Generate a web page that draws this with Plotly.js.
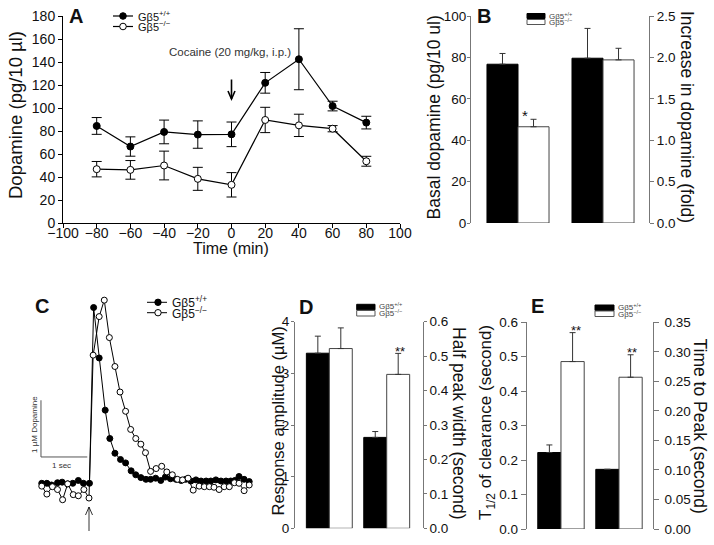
<!DOCTYPE html>
<html>
<head>
<meta charset="utf-8">
<script src="https://cdn.plot.ly/plotly-3.0.1.min.js"></script>
<style>html,body{margin:0;padding:0;background:#fff;}#chart{width:714px;height:545px;}</style>
</head>
<body>
<div id="chart"></div>
<script>
// ---------- Panel A: microdialysis time course ----------
const timeA = [-80, -60, -40, -20, 0, 20, 40, 60, 80];
const wtA = [84.4, 66.5, 79.2, 76.9, 77.1, 121.9, 142.4, 101.7, 87.3];
const wtAerr = [7.3, 8.4, 10.3, 11.9, 10.7, 9.0, 26.5, 4.2, 5.5];
const koA = [46.8, 46.2, 50.0, 38.4, 33.2, 89.6, 84.9, 82.0, 53.7];
const koAerr = [6.7, 8.1, 12.5, 10.0, 10.6, 11.0, 9.7, 2.7, 4.3];

// ---------- Panel B ----------
const groupsB = ['Basal', 'Increase'];
const basalB = [76.7, 46.5];        // WT, KO (pg/10 ul)
const basalBerr = [5.2, 3.6];
const foldB = [1.99, 1.97];         // WT, KO (fold)
const foldBerr = [0.36, 0.14];

// ---------- Panel C: voltammetry traces ----------
const tWT = [-1.02,-0.91,-0.81,-0.68,-0.58,-0.46,-0.35,-0.23,-0.12,0.01,0.10,0.22,0.35,0.45,0.56,0.68,0.79,0.91,1.01,1.12,1.23,1.33,1.44,1.55,1.65,1.76,1.88,1.99,2.09,2.20,2.31,2.42,2.53,2.63,2.74,2.85,2.96,3.06,3.15,3.24,3.35,3.46];
const yWT = [0,0,-0.03,0.01,0.02,-0.01,0,0.05,0,0,3.10,2.21,1.29,0.79,0.53,0.42,0.36,0.22,0.15,0.10,0.07,0.07,0.09,0.05,0.11,0.08,0.07,0.05,0.07,0.04,0.06,0.04,0.04,0.04,0.06,0.04,0.04,0.04,0.05,0.12,0.07,0.03];
const tKO = [-1.02,-0.91,-0.79,-0.68,-0.57,-0.46,-0.34,-0.23,-0.11,0.00,0.09,0.22,0.33,0.44,0.56,0.67,0.79,0.90,1.01,1.12,1.22,1.33,1.45,1.57,1.68,1.80,1.91,2.02,2.14,2.25,2.38,2.49,2.60,2.70,2.81,2.92,3.03,3.14,3.24,3.35,3.46];
const yKO = [-0.05,-0.19,-0.06,-0.11,-0.29,-0.01,-0.20,-0.22,-0.11,-0.26,2.26,2.94,3.23,2.57,2.06,1.61,1.27,0.95,0.79,0.69,0.54,0.21,0.26,0.30,0.20,0.15,0.07,0.06,0.09,-0.12,-0.05,-0.06,-0.06,-0.07,-0.11,-0.06,-0.06,0.01,0.00,-0.13,-0.03];

// ---------- Panel D ----------
const groupsD = ['Amplitude', 'HalfWidth'];
const ampD = [3.39, 3.48];          // uM
const ampDerr = [0.33, 0.40];
const widthD = [0.264, 0.447];      // s
const widthDerr = [0.017, 0.061];

// ---------- Panel E ----------
const groupsE = ['T12', 'TTP'];
const t12E = [0.222, 0.486];        // s
const t12Eerr = [0.022, 0.084];
const ttpE = [0.101, 0.257];        // s
const ttpEerr = [0.0, 0.038];

const W = 714, H = 545;
const P = x => x / W;
const Q = y => 1 - y / H;
const FONT = 'Liberation Sans, Arial, sans-serif';
const TXT = '#111';
const AX = '#777';
const lblWT = 'Gβ5<sup>+/+</sup>';
const lblKO = 'Gβ5<sup>−/−</sup>';

function errUp(v) {
  return {type: 'data', array: [v], arrayminus: [0], symmetric: false, color: '#333', thickness: 1, width: 3};
}
function barT(cat, val, err, xa, ya, wt, bw) {
  return {
    type: 'bar', x: [cat], y: [val], xaxis: xa, yaxis: ya,
    width: bw, offset: wt ? -bw : 0,
    marker: {color: wt ? '#000' : '#fff', line: {color: wt ? '#000' : '#444', width: 1}},
    error_y: errUp(err), showlegend: false, hoverinfo: 'skip'
  };
}

const traces = [];
// A
traces.push({
  type: 'scatter', mode: 'lines+markers', x: timeA, y: wtA, xaxis: 'x', yaxis: 'y',
  line: {color: '#000', width: 1.2},
  marker: {symbol: 'circle', size: 7, color: '#000', line: {color: '#000', width: 1}},
  error_y: {type: 'data', array: wtAerr, visible: true, color: '#000', thickness: 1, width: 5},
  showlegend: false, cliponaxis: false
});
traces.push({
  type: 'scatter', mode: 'lines+markers', x: timeA, y: koA, xaxis: 'x', yaxis: 'y',
  line: {color: '#000', width: 1.2},
  marker: {symbol: 'circle', size: 7, color: '#fff', line: {color: '#000', width: 1}},
  error_y: {type: 'data', array: koAerr, visible: true, color: '#000', thickness: 1, width: 5},
  showlegend: false, cliponaxis: false
});
// B
const bwB = 0.365;
traces.push(barT(groupsB[0], basalB[0], basalBerr[0], 'x2', 'y2', true, bwB));
traces.push(barT(groupsB[0], basalB[1], basalBerr[1], 'x2', 'y2', false, bwB));
traces.push(barT(groupsB[1], foldB[0], foldBerr[0], 'x2', 'y3', true, bwB));
traces.push(barT(groupsB[1], foldB[1], foldBerr[1], 'x2', 'y3', false, bwB));
// C
traces.push({
  type: 'scatter', mode: 'lines+markers', x: tWT, y: yWT, xaxis: 'x3', yaxis: 'y4',
  line: {color: '#000', width: 1},
  marker: {symbol: 'circle', size: 6, color: '#000', line: {color: '#000', width: 1}},
  showlegend: false, cliponaxis: false
});
traces.push({
  type: 'scatter', mode: 'lines+markers', x: tKO, y: yKO, xaxis: 'x3', yaxis: 'y4',
  line: {color: '#000', width: 1},
  marker: {symbol: 'circle', size: 6, color: '#fff', line: {color: '#000', width: 1}},
  showlegend: false, cliponaxis: false
});
// D
const bwD = 0.40;
traces.push(barT(groupsD[0], ampD[0], ampDerr[0], 'x4', 'y5', true, bwD));
traces.push(barT(groupsD[0], ampD[1], ampDerr[1], 'x4', 'y5', false, bwD));
traces.push(barT(groupsD[1], widthD[0], widthDerr[0], 'x4', 'y6', true, bwD));
traces.push(barT(groupsD[1], widthD[1], widthDerr[1], 'x4', 'y6', false, bwD));
// E
const bwE = 0.40;
traces.push(barT(groupsE[0], t12E[0], t12Eerr[0], 'x5', 'y7', true, bwE));
traces.push(barT(groupsE[0], t12E[1], t12Eerr[1], 'x5', 'y7', false, bwE));
traces.push(barT(groupsE[1], ttpE[0], ttpEerr[0], 'x5', 'y8', true, bwE));
traces.push(barT(groupsE[1], ttpE[1], ttpEerr[1], 'x5', 'y8', false, bwE));

function tf(s) { return {family: FONT, size: s, color: TXT}; }
function yax(domain, range, dtick, fmt, anchor, extra) {
  return Object.assign({
    domain: domain, range: range, dtick: dtick, tick0: 0, tickformat: fmt, anchor: anchor,
    showline: true, linecolor: AX, linewidth: 1, ticks: 'outside', ticklen: 4, tickcolor: AX,
    showgrid: false, zeroline: false, tickfont: tf(13.5), fixedrange: true
  }, extra || {});
}
function hiddenX(domain, range, anchor, cats) {
  const a = {domain: domain, range: range, anchor: anchor, visible: false, showgrid: false, zeroline: false, fixedrange: true};
  if (cats) { a.type = 'category'; a.categoryorder = 'array'; a.categoryarray = cats; }
  return a;
}

const domAy = [Q(223), Q(16)];
const domDy = [Q(528.3), Q(321.7)];
const domEy = [Q(529), Q(322.3)];

const layout = {
  width: W, height: H,
  margin: {l: 0, r: 0, t: 0, b: 0},
  paper_bgcolor: '#fff', plot_bgcolor: 'rgba(0,0,0,0)',
  font: {family: FONT, color: TXT},
  showlegend: false,
  barmode: 'overlay',
  xaxis: {
    domain: [P(63), P(400)], range: [-100, 100], dtick: 20, tick0: -100, anchor: 'y',
    showline: true, linecolor: '#000', linewidth: 1, ticks: 'outside', ticklen: 4, tickcolor: '#000',
    ticklabelstandoff: -7,
    showgrid: false, zeroline: false, tickfont: tf(14), fixedrange: true
  },
  yaxis: yax(domAy, [0, 180], 20, 'd', 'x', {linecolor: '#000', tickcolor: '#000', ticklen: 4, tickfont: tf(14)}),
  xaxis2: hiddenX([P(471), P(649)], [-0.553, 1.541], 'y2', groupsB),
  yaxis2: yax(domAy, [0, 100], 20, 'd', 'x2', {ticklen: 3, ticklabelstandoff: -2}),
  yaxis3: yax(domAy, [0, 2.5], 0.5, '.1f', 'x2', {overlaying: 'y2', side: 'right', ticklen: 4}),
  xaxis3: hiddenX([P(30), P(250)], [-1.274, 3.477], 'y4'),
  yaxis4: {domain: [Q(510), Q(290)], range: [-0.471, 3.409], anchor: 'x3', visible: false, showgrid: false, zeroline: false, fixedrange: true},
  xaxis4: hiddenX([P(295), P(422.7)], [-0.598, 1.627], 'y5', groupsD),
  yaxis5: yax(domDy, [0, 4], 1, 'd', 'x4', {ticklen: 3, ticklabelstandoff: -1}),
  yaxis6: yax(domDy, [0, 0.6], 0.1, '.1f', 'x4', {overlaying: 'y5', side: 'right', ticklen: 3}),
  xaxis5: hiddenX([P(526.7), P(652.7)], [-0.591, 1.581], 'y7', groupsE),
  yaxis7: yax(domEy, [0, 0.6], 0.1, '.1f', 'x5', {ticklen: 5}),
  yaxis8: yax(domEy, [0, 0.35], 0.05, '.2f', 'x5', {overlaying: 'y7', side: 'right', ticklen: 5, ticklabelstandoff: 3}),
  shapes: [],
  annotations: []
};

const S = layout.shapes, A = layout.annotations;
function txt(x, y, text, size, opts) {
  A.push(Object.assign({
    xref: 'paper', yref: 'paper', x: P(x), y: Q(y), text: text, showarrow: false,
    xanchor: 'center', yanchor: 'middle', font: {family: FONT, size: size, color: TXT}
  }, opts || {}));
}
function hline(x0, x1, y, w) {
  S.push({type: 'line', xref: 'paper', yref: 'paper', x0: P(x0), x1: P(x1), y0: Q(y), y1: Q(y), line: {color: '#000', width: w || 1}});
}
function dot(x, y, r, fill) {
  S.push({type: 'circle', xref: 'paper', yref: 'paper', xsizemode: 'pixel', ysizemode: 'pixel',
    xanchor: P(x), yanchor: Q(y), x0: -r, x1: r, y0: -r, y1: r,
    fillcolor: fill, line: {color: '#000', width: 1}});
}
function rect(x0, x1, y0, y1, fill) {
  S.push({type: 'rect', xref: 'paper', yref: 'paper', x0: P(x0), x1: P(x1), y0: Q(y1), y1: Q(y0),
    fillcolor: fill, line: {color: fill === '#000' ? '#000' : '#555', width: 1}});
}
function arrow(x0, y0, x1, y1, w) {
  S.push({type: 'line', xref: 'paper', yref: 'paper', x0: P(x0), x1: P(x1), y0: Q(y0), y1: Q(y1), line: {color: '#000', width: w}});
  const dir = y1 > y0 ? 1 : -1;
  S.push({type: 'path', xref: 'paper', yref: 'paper',
    path: 'M' + P(x1 - 3.5) + ',' + Q(y1 - dir * 8) + ' L' + P(x1) + ',' + Q(y1) + ' L' + P(x1 + 3.5) + ',' + Q(y1 - dir * 8),
    line: {color: '#000', width: w}});
}

// Panel letters
[['A', 75.5, 16], ['B', 483.5, 16], ['C', 41.7, 306], ['D', 305.5, 306.5], ['E', 537, 305.5]].forEach(l => {
  txt(l[1], l[2], '<b>' + l[0] + '</b>', 20);
});

// Axis titles
txt(15, 115, 'Dopamine (pg/10 µl)', 18.5, {textangle: -90});
txt(231, 248, 'Time (min)', 16);
txt(433.5, 117, 'Basal dopamine (pg/10 ul)', 17.5, {textangle: -90});
txt(686.5, 116.5, 'Increase in dopamine (fold)', 17.5, {textangle: 90});
txt(277, 421.5, 'Response amplitude (µM)', 16.5, {textangle: -90});
txt(459, 423, 'Half peak width (second)', 17.5, {textangle: 90});
txt(486.5, 422.5, 'T<sub>1/2</sub> of clearance (second)', 17, {textangle: -90});
txt(700, 425.5, 'Time to Peak (second)', 17.5, {textangle: 90});

// Panel A legend and cocaine marker
hline(113, 133, 16, 1.2); dot(123, 16, 3.3, '#000');
hline(113, 133, 26.5, 1.2); dot(123, 26.5, 3.3, '#fff');
txt(136, 16, lblWT, 11, {xanchor: 'left'});
txt(136, 26.5, lblKO, 11, {xanchor: 'left'});
txt(230, 51.7, 'Cocaine (20 mg/kg, i.p.)', 11.5, {font: {family: FONT, size: 11.5, color: '#333'}});
arrow(231.5, 79.5, 231.5, 99, 1.6);

// Panel B legend + significance
rect(527, 545, 13.5, 18.5, '#000');
rect(527, 545, 19.5, 24.5, '#fff');
txt(547, 15.5, lblWT, 8, {xanchor: 'left', font: {family: FONT, size: 8, color: '#444'}});
txt(547, 22.5, lblKO, 8, {xanchor: 'left', font: {family: FONT, size: 8, color: '#444'}});
txt(525.3, 115, '*', 15);

// Panel C legend, scale bar and stimulus arrow
hline(147, 167, 302.3, 1); dot(158, 302.3, 3.2, '#000');
hline(147, 167, 312.7, 1); dot(158, 312.7, 3.2, '#fff');
txt(170, 302.3, lblWT, 12, {xanchor: 'left'});
txt(170, 312.7, lblKO, 12, {xanchor: 'left'});
S.push({type: 'line', xref: 'x3', yref: 'y4', x0: -1.037, x1: -1.037, y0: 0.464, y1: 1.464, line: {color: '#555', width: 1}});
S.push({type: 'line', xref: 'x3', yref: 'y4', x0: -1.037, x1: -0.037, y0: 0.464, y1: 0.464, line: {color: '#555', width: 1}});
txt(34, 425, '1 µM Dopamine', 8, {textangle: -90, font: {family: FONT, size: 8, color: '#333'}});
txt(61.7, 465, '1 sec', 8, {font: {family: FONT, size: 8, color: '#333'}});
arrow(89, 531, 89, 507, 0.8);

// Panel D legend + significance
rect(356.7, 375, 304.3, 309.8, '#000');
rect(356.7, 375, 310.5, 316, '#fff');
txt(377, 306, lblWT, 8, {xanchor: 'left', font: {family: FONT, size: 8, color: '#444'}});
txt(377, 313, lblKO, 8, {xanchor: 'left', font: {family: FONT, size: 8, color: '#444'}});
txt(399.5, 351, '**', 13);

// Panel E legend + significance
rect(595, 614, 305, 310.5, '#000');
rect(595, 614, 311, 316.5, '#fff');
txt(615.5, 306.5, lblWT, 8, {xanchor: 'left', font: {family: FONT, size: 8, color: '#444'}});
txt(615.5, 313.5, lblKO, 8, {xanchor: 'left', font: {family: FONT, size: 8, color: '#444'}});
txt(575.5, 330, '**', 13);
txt(632, 352.5, '**', 13);

Plotly.newPlot('chart', traces, layout, {staticPlot: true, displayModeBar: false});
</script>
</body>
</html>
